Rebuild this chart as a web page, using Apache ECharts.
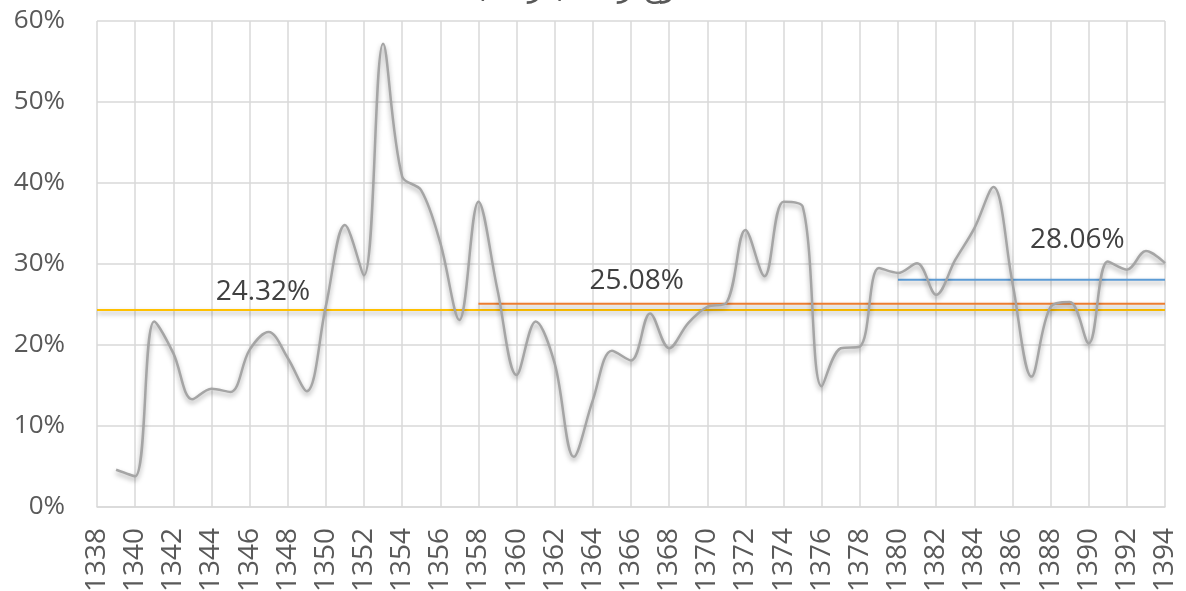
<!DOCTYPE html>
<html>
<head>
<meta charset="utf-8">
<script src="https://cdn.jsdelivr.net/npm/echarts@6/dist/echarts.min.js"></script>
<style>
  html, body { margin: 0; padding: 0; background: #fff; }
  #line-chart { width: 1186px; height: 591px; }
</style>
</head>
<body>
<div id="line-chart"></div>
<script>
// years and yearly values (%)
var years = [1339, 1340, 1341, 1342, 1343, 1344, 1345, 1346, 1347, 1348,
  1349, 1350, 1351, 1352, 1353, 1354, 1355, 1356, 1357, 1358,
  1359, 1360, 1361, 1362, 1363, 1364, 1365, 1366, 1367, 1368,
  1369, 1370, 1371, 1372, 1373, 1374, 1375, 1376, 1377, 1378,
  1379, 1380, 1381, 1382, 1383, 1384, 1385, 1386, 1387, 1388,
  1389, 1390, 1391, 1392, 1393, 1394];
var values = [4.6, 3.8, 22.9, 19.0, 13.3, 14.6, 14.2, 19.4, 21.6, 18.4,
  14.3, 24.8, 34.8, 28.6, 57.2, 40.8, 39.1, 32.6, 23.1, 37.7,
  26.8, 16.3, 22.9, 17.7, 6.2, 13.2, 19.3, 18.1, 23.9, 19.6,
  22.7, 24.7, 25.2, 34.2, 28.5, 37.7, 37.1, 14.9, 19.6, 19.8,
  29.5, 28.9, 30.1, 26.2, 30.5, 34.4, 39.5, 27.7, 16.1, 24.7,
  25.3, 20.2, 30.3, 29.3, 31.6, 30.1];

// period averages: start year, value, where the label sits
var avgStart = [1338, 1358, 1380];
var avgValue = [24.32, 25.08, 28.06];
var avgLabelAt = [1346.7, 1366.3, 1389.4];
var avgColors = ["#FFC000", "#ED7D31", "#5B9BD5"];
var avgLabelDist = [3, 8, 25];

var yTicks = [0, 10, 20, 30, 40, 50, 60];
var xMin = 1338, xMax = 1394;

var shadow = {
  shadowColor: "rgba(0,0,0,0.35)",
  shadowBlur: 5,
  shadowOffsetY: 3,
};

var series = [];
for (let i = 0; i < avgValue.length; i++) {
  series.push({
    type: "line",
    z: 2,
    symbol: "circle",
    symbolSize: 2,
    showSymbol: true,
    silent: true,
    lineStyle: Object.assign({ color: avgColors[i], width: 2 }, shadow),
    itemStyle: { color: "rgba(0,0,0,0)", borderWidth: 0 },
    data: [
      [avgStart[i], avgValue[i]],
      {
        value: [avgLabelAt[i], avgValue[i]],
        label: {
          show: true,
          position: "top",
          distance: avgLabelDist[i],
          formatter: avgValue[i].toFixed(2) + "%",
          color: "#404040",
          fontSize: 28,
          fontFamily: "Open Sans",
        },
      },
      [xMax, avgValue[i]],
    ],
  });
}

series.push({
  type: "line",
  z: 3,
  smooth: 0.35,
  showSymbol: false,
  lineStyle: Object.assign({ color: "#A5A5A5", width: 2.5 }, shadow),
  data: years.map((y, i) => [y, values[i]]),
});

var option = {
  animation: false,
  title: {
    text: "نرخ رشد (درصد)",
    left: 470,
    top: -31,
    textStyle: { fontSize: 30, color: "#595959", fontWeight: "normal", fontFamily: "DejaVu Sans" },
  },
  grid: { left: 97, right: 21, top: 21, bottom: 84, outerBoundsMode: "none", containLabel: false },
  xAxis: {
    type: "value",
    min: xMin,
    max: xMax,
    interval: 2,
    axisLine: { show: true, lineStyle: { color: "#D9D9D9", width: 1.5 } },
    axisTick: { show: false },
    splitLine: { show: true, lineStyle: { color: "#D9D9D9", width: 1.5 } },
    axisLabel: {
      rotate: 90,
      margin: 21,
      fontSize: 28,
      color: "#595959",
      fontFamily: "Open Sans",
      formatter: (v) => String(v),
    },
  },
  yAxis: {
    type: "value",
    min: yTicks[0],
    max: yTicks[yTicks.length - 1],
    interval: 10,
    axisLine: { show: false },
    axisTick: { show: false },
    splitLine: { lineStyle: { color: "#D9D9D9", width: 1.5 } },
    axisLabel: {
      margin: 32,
      fontSize: 26,
      color: "#595959",
      fontFamily: "Open Sans",
      formatter: (v) => v + "%",
    },
  },
  series: series,
};

var lineChart = echarts.init(document.getElementById("line-chart"));
lineChart.setOption(option);
</script>
</body>
</html>
